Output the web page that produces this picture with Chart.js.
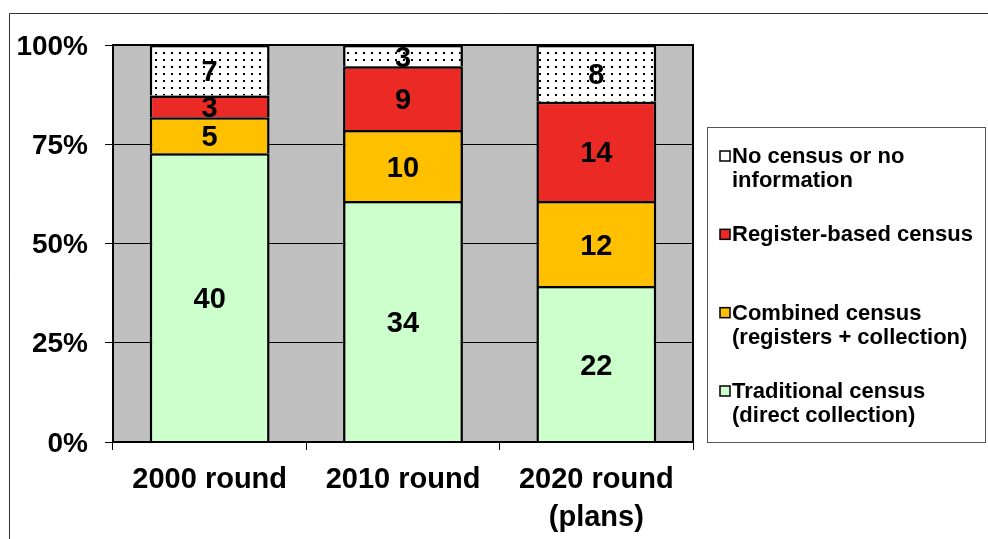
<!DOCTYPE html>
<html>
<head>
<meta charset="utf-8">
<style>
  html, body { margin: 0; padding: 0; background: #ffffff; }
  #wrap { width: 988px; height: 539px; position: relative; }
</style>
<script src="https://cdn.jsdelivr.net/npm/chart.js@4.4.0/dist/chart.umd.min.js"></script>
</head>
<body>
<div id="wrap"><canvas id="c" width="988" height="539"></canvas></div>
<script>
// ---- Data ----
const categories = ["2000 round", "2010 round", ["2020 round", "(plans)"]];
const traditional = [40, 34, 22];   // Traditional census (direct collection)
const combined    = [5, 10, 12];    // Combined census (registers + collection)
const register    = [3, 9, 14];     // Register-based census
const noCensus    = [7, 3, 8];      // No census or no information
const yTicks = [0, 25, 50, 75, 100];

const seriesNames = [
  ["Traditional census", "(direct collection)"],
  ["Combined census", "(registers + collection)"],
  ["Register-based census"],
  ["No census or no", "information"]
];

const totals = categories.map((_, i) => traditional[i] + combined[i] + register[i] + noCensus[i]);
const toPct = arr => arr.map((v, i) => v / totals[i] * 100);

// dotted pattern
function makeDots() {
  const p = document.createElement('canvas');
  p.width = 8; p.height = 7;
  const g = p.getContext('2d');
  g.fillStyle = '#ffffff'; g.fillRect(0, 0, 8, 7);
  g.fillStyle = '#000000'; g.fillRect(3, 3, 2, 2);
  return document.getElementById('c').getContext('2d').createPattern(p, 'repeat');
}
const dots = makeDots();

const FONT = "'Liberation Sans', Arial, Helvetica, sans-serif";
const rawSeries = [traditional, combined, register, noCensus];
const fills = ['#ccffcc', '#ffc000', '#ec2a25', dots];

const datasets = rawSeries.map((arr, k) => ({
  label: seriesNames[k].join(' '),
  data: toPct(arr),
  raw: arr,
  backgroundColor: fills[k],
  borderColor: '#000000',
  borderWidth: 2.5,
  borderSkipped: 'start',
  barPercentage: 0.62,
  categoryPercentage: 1.0
}));

const decorPlugin = {
  id: 'decor',
  beforeDraw(chart) {
    const { ctx, chartArea: a } = chart;
    ctx.save();
    // outer frame
    ctx.strokeStyle = '#333333';
    ctx.lineWidth = 1;
    ctx.beginPath();
    ctx.moveTo(9.5, chart.height); ctx.lineTo(9.5, 13.5); ctx.lineTo(chart.width, 13.5);
    ctx.stroke();
    // plot background
    ctx.fillStyle = '#c0c0c0';
    ctx.fillRect(a.left, a.top, a.right - a.left, a.bottom - a.top);
    ctx.restore();
  },
  afterDatasetsDraw(chart) {
    const { ctx, chartArea: a } = chart;
    ctx.save();
    // value labels
    ctx.font = 'bold 29px ' + FONT;
    ctx.fillStyle = '#000000';
    ctx.textAlign = 'center';
    ctx.textBaseline = 'middle';
    chart.data.datasets.forEach((ds, di) => {
      const meta = chart.getDatasetMeta(di);
      meta.data.forEach((bar, i) => {
        const yc = (bar.y + bar.base) / 2;
        ctx.fillText(String(ds.raw[i]), bar.x, yc + 3);
      });
    });
    // plot border
    ctx.strokeStyle = '#000000';
    ctx.lineWidth = 2;
    ctx.strokeRect(a.left, a.top, a.right - a.left, a.bottom - a.top);
    ctx.restore();
  },
  afterDraw(chart) {
    const { ctx, chartArea: a } = chart;
    ctx.save();
    // legend box
    const L = a.right + 14, R = chart.width - 2, T = a.top + 82, B = a.bottom + 1;
    ctx.fillStyle = '#ffffff';
    ctx.fillRect(L, T, R - L, B - T);
    ctx.strokeStyle = '#555555';
    ctx.lineWidth = 1;
    ctx.strokeRect(L + 0.5, T + 0.5, R - L - 1, B - T - 1);
    ctx.font = 'bold 22px ' + FONT;
    ctx.textAlign = 'left';
    ctx.textBaseline = 'middle';
    const order = [3, 2, 1, 0];
    const step = (B - T - 81) / 3;
    order.forEach((di, j) => {
      const ds = chart.data.datasets[di];
      const cy = T + 29 + j * step;
      const mx = L + 13;
      ctx.fillStyle = di === 3 ? '#ffffff' : ds.backgroundColor;
      ctx.fillRect(mx, cy - 5, 10, 10);
      ctx.strokeStyle = '#000000';
      ctx.lineWidth = 1.5;
      ctx.strokeRect(mx, cy - 5, 10, 10);
      ctx.fillStyle = '#000000';
      seriesNames[di].forEach((line, li) => {
        ctx.fillText(line, L + 25, cy + 1 + li * 24);
      });
    });
    ctx.restore();
  }
};

new Chart(document.getElementById('c'), {
  type: 'bar',
  data: { labels: categories, datasets },
  options: {
    responsive: false,
    animation: false,
    devicePixelRatio: 1,
    layout: { padding: { left: 0, top: 45, right: 295, bottom: 0 } },
    plugins: { legend: { display: false }, tooltip: { enabled: false } },
    scales: {
      x: {
        stacked: true,
        afterFit(s) { s.height = 97; },
        grid: { display: true, drawOnChartArea: false, drawTicks: true, tickLength: 8, color: '#000000', lineWidth: 1, offset: true },
        border: { display: false },
        ticks: { color: '#000000', font: { family: FONT, size: 29, weight: 'bold', lineHeight: 1.3 }, padding: 11, maxRotation: 0, autoSkip: false }
      },
      y: {
        stacked: true,
        min: 0, max: 100,
        afterFit(s) { s.width = 113; },
        afterBuildTicks(s) { s.ticks = yTicks.map(v => ({ value: v })); },
        grid: { color: '#000000', lineWidth: 1, tickLength: 8, drawTicks: true },
        border: { display: false },
        ticks: { color: '#000000', padding: 17, labelOffset: 2, font: { family: FONT, size: 28, weight: 'bold' }, callback: v => v + '%' }
      }
    }
  },
  plugins: [decorPlugin]
});
</script>
</body>
</html>
